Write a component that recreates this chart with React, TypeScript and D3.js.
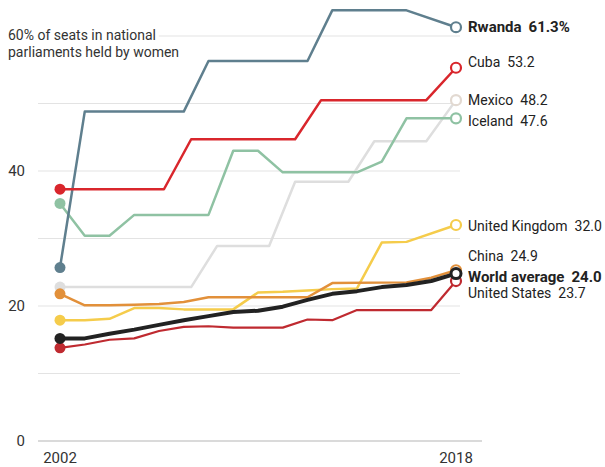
import { useEffect, useRef } from 'react';
import * as d3 from 'd3';

// [year, % of seats held by women]
const rwanda: [number, number][] = [[2002, 25.7], [2003, 48.8], [2007, 48.8], [2008, 56.3], [2012, 56.3], [2013, 63.8], [2016, 63.8], [2018, 61.3]];
const cuba: [number, number][] = [[2002, 37.3], [2006.2, 37.3], [2007.3, 44.7], [2011.5, 44.7], [2012.55, 50.5], [2016.8, 50.5], [2018, 55.3]];
const mexico: [number, number][] = [[2002, 22.8], [2007.3, 22.8], [2008.35, 28.9], [2010.45, 28.9], [2011.5, 38.4], [2013.65, 38.4], [2014.7, 44.4], [2016.8, 44.4], [2018, 50.5]];
const iceland: [number, number][] = [[2002, 35.2], [2003, 30.4], [2004, 30.4], [2005, 33.5], [2008, 33.5], [2009, 43.0], [2010, 43.0], [2011, 39.8], [2014, 39.8], [2015, 41.4], [2016, 47.8], [2018, 47.8]];
const uk: [number, number][] = [[2002, 17.9], [2003, 17.9], [2004, 18.1], [2005, 19.7], [2006, 19.7], [2007, 19.5], [2008, 19.5], [2009, 19.5], [2010, 22.0], [2011, 22.1], [2012, 22.3], [2013, 22.5], [2014, 22.6], [2015, 29.4], [2016, 29.5], [2018, 32.0]];
const china: [number, number][] = [[2002, 21.8], [2003, 20.1], [2004, 20.1], [2005, 20.2], [2006, 20.3], [2007, 20.6], [2008, 21.3], [2012, 21.3], [2013, 23.4], [2016, 23.5], [2017, 24.2], [2018, 25.3]];
const unitedStates: [number, number][] = [[2002, 13.8], [2003, 14.3], [2004, 15.0], [2005, 15.2], [2006, 16.3], [2007, 16.9], [2008, 17.0], [2009, 16.8], [2010, 16.8], [2011, 16.8], [2012, 18.0], [2013, 17.9], [2014, 19.4], [2015, 19.4], [2016, 19.4], [2017, 19.4], [2018, 23.7]];
const world: [number, number][] = [[2002, 15.2], [2003, 15.2], [2004, 15.9], [2005, 16.5], [2006, 17.2], [2007, 17.9], [2008, 18.5], [2009, 19.1], [2010, 19.3], [2011, 19.9], [2012, 20.9], [2013, 21.8], [2014, 22.2], [2015, 22.8], [2016, 23.1], [2017, 23.7], [2018, 24.8]];

const names = ['Mexico', 'Iceland', 'Rwanda', 'Cuba', 'United Kingdom', 'China', 'United States', 'World average'];
const labelValues = ['48.2', '47.6', '61.3%', '53.2', '32.0', '24.9', '23.7', '24.0'];
const seriesData = [mexico, iceland, rwanda, cuba, uk, china, unitedStates, world];

const yTicks = [0, 10, 20, 30, 40, 50, 60];
const yLabels = [0, 20, 40];
const xLabels = [2002, 2018];

// styling per series (same order as names)
const styles = [
  { color: '#dedede', end: '#e2d9d1', width: 2.5, bold: false, dy: 0 },
  { color: '#8fc2a3', end: '#8fc2a3', width: 2.5, bold: false, dy: 3 },
  { color: '#5f7f8e', end: '#5f7f8e', width: 2.5, bold: true, dy: 0 },
  { color: '#d9262c', end: '#d9262c', width: 2.5, bold: false, dy: -6 },
  { color: '#f5cc4b', end: '#f5cc4b', width: 2.5, bold: false, dy: 1 },
  { color: '#e2903a', end: '#e2903a', width: 2.5, bold: false, dy: -14 },
  { color: '#bf2a30', end: '#bf2a30', width: 2.2, bold: false, dy: 12 },
  { color: '#222222', end: '#222222', width: 4, bold: true, dy: 3 },
];

const W = 605;
const H = 467;
const FONT = 'Roboto, "Open Sans", sans-serif';

export default function App() {
  const svgRef = useRef<SVGSVGElement>(null);

  useEffect(() => {
    if (!svgRef.current) return;
    const svg = d3.select(svgRef.current);
    svg.selectAll('*').remove();

    const x = d3.scaleLinear().domain([2002, 2018]).range([60, 456]);
    const y = d3.scaleLinear().domain([0, 60]).range([441, 36]);

    // gridlines
    svg.append('g')
      .selectAll('line')
      .data(yTicks)
      .join('line')
      .attr('x1', 38)
      .attr('x2', d => (d === 0 ? 482 : 460))
      .attr('y1', d => y(d))
      .attr('y2', d => y(d))
      .attr('stroke', d => (d === 0 ? '#b5b5b5' : '#e3e3e3'))
      .attr('stroke-width', 1);

    // y labels
    svg.append('g')
      .selectAll('text')
      .data(yLabels)
      .join('text')
      .attr('x', 25)
      .attr('y', d => y(d))
      .attr('dy', '0.35em')
      .attr('text-anchor', 'end')
      .style('font-family', FONT)
      .style('font-size', '15px')
      .style('fill', '#333')
      .text(d => d);

    // title (covers the 60 gridline)
    const title = svg.append('text')
      .attr('x', 8)
      .style('font-family', FONT)
      .style('font-size', '14px')
      .style('fill', '#333')
      .attr('stroke', '#fff')
      .attr('stroke-width', 8)
      .attr('paint-order', 'stroke')
      .attr('stroke-linejoin', 'round');
    title.append('tspan').attr('x', 8).attr('y', 40).text('60% of seats in national');
    title.append('tspan').attr('x', 8).attr('y', 57).text('parliaments held by women');

    // x labels
    svg.append('g')
      .selectAll('text')
      .data(xLabels)
      .join('text')
      .attr('x', d => x(d))
      .attr('y', 463)
      .attr('text-anchor', 'middle')
      .style('font-family', FONT)
      .style('font-size', '15px')
      .style('fill', '#333')
      .text(d => d);

    const line = d3.line<[number, number]>()
      .x(d => x(d[0]))
      .y(d => y(d[1]));

    // lines
    seriesData.forEach((data, i) => {
      const s = styles[i];
      svg.append('path')
        .datum(data)
        .attr('fill', 'none')
        .attr('stroke', s.color)
        .attr('stroke-width', s.width)
        .attr('stroke-linejoin', 'round')
        .attr('d', line);
    });

    // start dots + end circles
    seriesData.forEach((data, i) => {
      const s = styles[i];
      const first = data[0];
      const last = data[data.length - 1];
      svg.append('circle')
        .attr('cx', x(first[0]))
        .attr('cy', y(first[1]))
        .attr('r', 5.5)
        .attr('fill', s.color);
      svg.append('circle')
        .attr('cx', x(last[0]))
        .attr('cy', y(last[1]))
        .attr('r', 5)
        .attr('fill', '#fff')
        .attr('stroke', s.end)
        .attr('stroke-width', i === 7 ? 3 : 2.2);
    });

    // end labels
    seriesData.forEach((data, i) => {
      const s = styles[i];
      const last = data[data.length - 1];
      const t = svg.append('text')
        .attr('x', 468)
        .attr('y', y(last[1]) + s.dy)
        .attr('dy', '0.35em')
        .style('font-family', FONT)
        .style('font-size', s.bold ? '15px' : '14px')
        .style('fill', '#222')
        .style('font-weight', s.bold ? 'bold' : 'normal');
      t.append('tspan').text(names[i]);
      t.append('tspan').attr('dx', 7).text(labelValues[i]);
    });
  }, []);

  return (
    <div style={{ position: 'absolute', left: 0, top: 0, width: W, height: H, background: '#fff' }}>
      <svg ref={svgRef} width={W} height={H} />
    </div>
  );
}
